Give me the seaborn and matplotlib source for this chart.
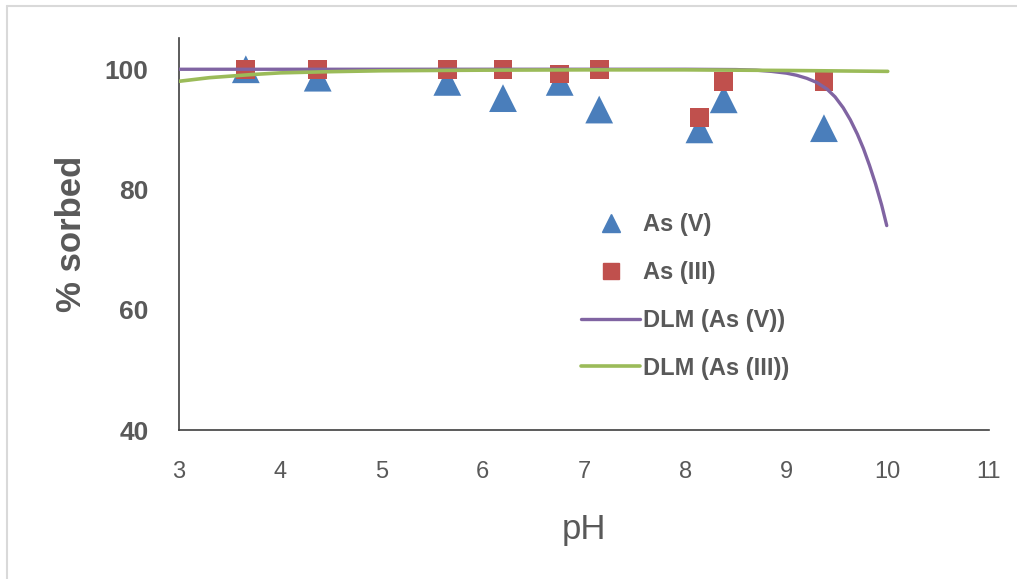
import matplotlib
matplotlib.use("Agg")
import matplotlib.pyplot as plt
from matplotlib.lines import Line2D
import seaborn as sns
import pandas as pd

# Measured sorption data
ph_as5 = [3.66, 4.37, 5.65, 6.20, 6.76, 7.15, 8.14, 8.38, 9.37]
sorbed_as5 = [100.0, 98.6, 97.9, 95.2, 97.9, 93.3, 90.0, 95.0, 90.2]

ph_as3 = [3.66, 4.37, 5.65, 6.20, 6.76, 7.15, 8.14, 8.38, 9.37]
sorbed_as3 = [100.0, 100.0, 100.0, 100.0, 99.2, 100.0, 92.0, 98.0, 98.0]

# Diffuse layer model curves
dlm_ph_as5 = [3.0, 4.0, 5.0, 6.0, 7.0, 8.0, 8.5, 8.7, 8.85, 9.0, 9.1, 9.2, 9.3,
              9.4, 9.48, 9.56, 9.63, 9.70, 9.76, 9.82, 9.88, 9.94, 9.99]
dlm_as5 = [100.0, 100.0, 100.0, 100.0, 100.0, 100.0, 99.95, 99.85, 99.65, 99.35,
           99.0, 98.5, 97.8, 96.7, 95.4, 93.6, 91.6, 89.2, 86.8, 84.0, 80.9,
           77.4, 74.0]

dlm_ph_as3 = [3.0, 3.3, 3.7, 4.0, 4.5, 5.0, 6.0, 7.0, 8.0, 9.0, 10.0]
dlm_as3 = [98.0, 98.6, 99.1, 99.4, 99.6, 99.75, 99.85, 99.9, 99.9, 99.8, 99.65]

x_ticks = [3, 4, 5, 6, 7, 8, 9, 10, 11]
y_ticks = [40, 60, 80, 100]

blue = "#4A7EBB"
red = "#C0504D"
purple = "#8064A2"
green = "#9BBB59"
text_grey = "#595959"

sns.set_theme(style="white")
plt.rcParams["font.family"] = ["Liberation Sans", "DejaVu Sans"]

fig = plt.figure(figsize=(10.17, 5.79), dpi=100)
ax = fig.add_axes([179 / 1017, 1 - 430 / 579, (989 - 179) / 1017, (430 - 38) / 579])

df5 = pd.DataFrame({"pH": dlm_ph_as5, "val": dlm_as5})
df3 = pd.DataFrame({"pH": dlm_ph_as3, "val": dlm_as3})
sns.lineplot(data=df5, x="pH", y="val", color=purple, linewidth=2.4, ax=ax,
             zorder=3, sort=False)
sns.lineplot(data=df3, x="pH", y="val", color=green, linewidth=2.6, ax=ax,
             zorder=4, sort=False)

sns.scatterplot(x=ph_as5, y=sorbed_as5, marker="^", s=20 ** 2, color=blue,
                edgecolor="none", ax=ax, zorder=2)
sns.scatterplot(x=ph_as3, y=sorbed_as3, marker="s", s=13.5 ** 2, color=red,
                edgecolor="none", ax=ax, zorder=2)

ax.set_xlim(3, 11)
ax.set_ylim(40, 105.2)
ax.set_xticks(x_ticks)
ax.set_yticks(y_ticks)
ax.set_xticklabels([str(v) for v in x_ticks], fontsize=17, color=text_grey)
ax.set_yticklabels([str(v) for v in y_ticks], fontsize=19, fontweight="bold",
                   color=text_grey)
ax.tick_params(axis="x", length=0, pad=22)
ax.tick_params(axis="y", length=0, pad=22)

ax.set_xlabel("pH", fontsize=25, color=text_grey, labelpad=22)
ax.set_ylabel("% sorbed", fontsize=25, fontweight="bold", color=text_grey,
              labelpad=12)

for side in ["top", "right"]:
    ax.spines[side].set_visible(False)
for side in ["left", "bottom"]:
    ax.spines[side].set_color("#404040")
    ax.spines[side].set_linewidth(1.2)

handles = [
    Line2D([], [], marker="^", linestyle="none", color=blue, markersize=13),
    Line2D([], [], marker="s", linestyle="none", color=red, markersize=12),
    Line2D([], [], color=purple, linewidth=2.4),
    Line2D([], [], color=green, linewidth=2.6),
]
labels = ["As (V)", "As (III)", "DLM (As (V))", "DLM (As (III))"]
leg = ax.legend(handles, labels, loc="upper left",
                bbox_to_anchor=((560 - 179) / (989 - 179), (430 - 192) / 392),
                frameon=False, handlelength=2.5, handletextpad=0.1,
                labelspacing=1.05, prop={"size": 17, "weight": "bold"})
for t in leg.get_texts():
    t.set_color(text_grey)

# Chart area border (top and left edges)
fig.add_artist(Line2D([7 / 1017, 7 / 1017], [0, 1 - 6 / 579],
                      transform=fig.transFigure, color="#D9D9D9", linewidth=1.5))
fig.add_artist(Line2D([7 / 1017, 1], [1 - 6 / 579, 1 - 6 / 579],
                      transform=fig.transFigure, color="#D9D9D9", linewidth=1.5))

fig.savefig("out.png", dpi=100)
